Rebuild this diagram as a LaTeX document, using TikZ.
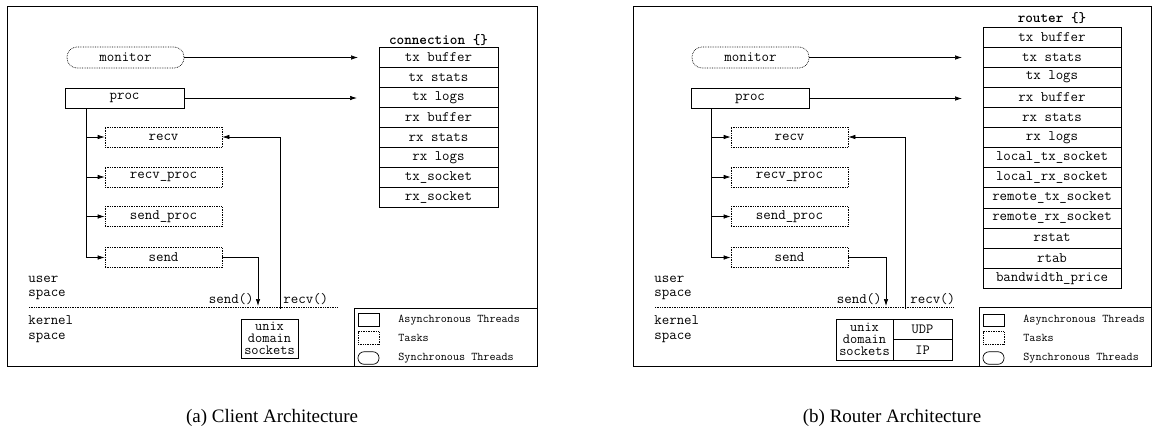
\documentclass[tikz,border=0pt]{standalone}
\usepackage{fontspec}
\setmainfont{Liberation Serif}
\usetikzlibrary{arrows.meta,calc}
\begin{document}
\begin{tikzpicture}[x=1pt,y=-1pt,
  font=\ttfamily\fontsize{14.5}{12}\selectfont,
  line width=0.7pt,
  >={Latex[length=7pt,width=4.5pt]},
  frame/.style={draw, line width=0.9pt},
  asyncbox/.style={draw, minimum height=20pt, minimum width=119pt, inner sep=0pt},
  taskbox/.style={draw, densely dotted, minimum height=20pt, minimum width=117pt, inner sep=0pt},
  syncbox/.style={draw, densely dotted, rounded corners=10pt, minimum height=21pt, minimum width=117pt, inner sep=0pt},
  rowbox/.style={draw, minimum height=20.1pt, inner sep=0pt},
  titletext/.style={font=\ttfamily\bfseries\fontsize{14.5}{12}\selectfont},
  lbl/.style={inner sep=0pt},
  spacelbl/.style={inner sep=0pt, anchor=west, align=left, font=\ttfamily\fontsize{14.5}{14.5}\selectfont},
  legtext/.style={font=\ttfamily\fontsize{11.8}{12}\selectfont, anchor=west, inner sep=0pt},
  legsym/.style={draw, minimum width=21pt, minimum height=12.5pt, inner sep=0pt},
  sockbox/.style={draw, inner sep=0pt, align=center, font=\ttfamily\fontsize{14}{12.3}\selectfont},
  caption/.style={font=\rmfamily\fontsize{19}{20}\selectfont, anchor=base}
]
\useasboundingbox (0,0) rectangle (1155,426);

% ================= LEFT PANEL =================
\node[frame, minimum width=530pt, minimum height=360pt, inner sep=0pt] (frameL) at (272,186) {};

\node[syncbox] (monitorL) at (125.5,57.5) {monitor};
\node[asyncbox] (procL) at (124.5,98) {proc};
\node[taskbox] (recvL) at (163.5,137) {recv};
\node[taskbox] (recvprocL) at (163.5,177) {recv\_proc};
\node[taskbox] (sendprocL) at (163.5,216.5) {send\_proc};
\node[taskbox] (sendL) at (163.5,257.5) {send};

\coordinate (brL) at (86,108);
\draw (brL) -- (brL |- sendL.west);
\draw[->] (brL |- recvL.west) -- (recvL.west);
\draw[->] (brL |- recvprocL.west) -- (recvprocL.west);
\draw[->] (brL |- sendprocL.west) -- (sendprocL.west);
\draw[->] (brL |- sendL.west) -- (sendL.west);

\node[titletext] (connT) at (438.5,40) {connection \{\}};
\foreach \i/\t in {1/tx buffer,2/tx stats,3/tx logs,4/rx buffer,5/rx stats,6/rx logs,7/tx\_socket,8/rx\_socket}{
  \node[rowbox, minimum width=119pt] (cL\i) at (438.5,{57.5+20*(\i-1)}) {\t};
}

\coordinate (mtipL) at (358,57.5);
\coordinate (ptipL) at (357,98);
\draw[->] (monitorL.east) -- (mtipL);
\draw[->] (procL.east) -- (ptipL);

\coordinate (sdL) at (258,306);
\coordinate (rvL) at (280,309);
\draw[->] (sendL.east) -| (sdL);
\draw[->] (rvL) |- (recvL.east);
\node[lbl, anchor=east] (sendtxtL) at (254,299) {send()};
\node[lbl, anchor=west] (recvtxtL) at (283,299) {recv()};

\coordinate (dotaL) at (29,307);
\coordinate (dotbL) at (338,307);
\draw[densely dotted] (dotaL) -- (dotbL);

\node[spacelbl] (userL) at (28,288) {user\\space};
\node[spacelbl] (kernelL) at (28,329) {kernel\\space};

\node[sockbox, minimum width=57pt, minimum height=39pt] (unixL) at (269.5,338.5) {unix\\domain\\sockets};

\node[draw, line width=0.9pt, minimum width=183pt, minimum height=58pt, inner sep=0pt] (legL) at (445.5,337) {};
\node[legsym] (la1L) at (368.5,320) {};
\node[legsym, densely dotted] (la2L) at (368.5,338) {};
\node[legsym, rounded corners=6pt] (la3L) at (368.5,358) {};
\node[legtext] (lt1L) at (398,320) {Asynchronous Threads};
\node[legtext] (lt2L) at (398,338) {Tasks};
\node[legtext] (lt3L) at (398,358) {Synchronous Threads};

\node[caption] (capL) at (272,422.5) {(a) Client Architecture};

% ================= RIGHT PANEL =================
\node[frame, minimum width=518pt, minimum height=360pt, inner sep=0pt] (frameR) at (892,186) {};

\node[syncbox] (monitorR) at (750.5,57.5) {monitor};
\node[asyncbox, minimum width=118pt] (procR) at (750,98.5) {proc};
\node[taskbox] (recvR) at (789.5,137) {recv};
\node[taskbox] (recvprocR) at (789.5,177) {recv\_proc};
\node[taskbox] (sendprocR) at (789.5,216.5) {send\_proc};
\node[taskbox] (sendR) at (789.5,257.5) {send};

\coordinate (brR) at (711,108.5);
\draw (brR) -- (brR |- sendR.west);
\draw[->] (brR |- recvR.west) -- (recvR.west);
\draw[->] (brR |- recvprocR.west) -- (recvprocR.west);
\draw[->] (brR |- sendprocR.west) -- (sendprocR.west);
\draw[->] (brR |- sendR.west) -- (sendR.west);

\node[titletext] (routT) at (1052,18) {router \{\}};
\foreach \i/\t in {1/tx buffer,2/tx stats,3/tx logs,4/rx buffer,5/rx stats,6/rx logs,7/local\_tx\_socket,8/local\_rx\_socket,9/remote\_tx\_socket,10/remote\_rx\_socket,11/rstat,12/rtab,13/bandwidth\_price}{
  \node[rowbox, minimum width=138pt] (cR\i) at (1052,{37+20.1*(\i-1)}) {\t};
}

\coordinate (mtipR) at (962,57.5);
\coordinate (ptipR) at (962,98.5);
\draw[->] (monitorR.east) -- (mtipR);
\draw[->] (procR.east) -- (ptipR);

\coordinate (sdR) at (886,306);
\coordinate (rvR) at (905,309);
\draw[->] (sendR.east) -| (sdR);
\draw[->] (rvR) |- (recvR.east);
\node[lbl, anchor=east] (sendtxtR) at (882,299) {send()};
\node[lbl, anchor=west] (recvtxtR) at (910,299) {recv()};

\coordinate (dotaR) at (655,307);
\coordinate (dotbR) at (953,307);
\draw[densely dotted] (dotaR) -- (dotbR);

\node[spacelbl] (userR) at (654,288) {user\\space};
\node[spacelbl] (kernelR) at (654,329) {kernel\\space};

\node[sockbox, minimum width=57pt, minimum height=41pt] (unixR) at (864.5,339.5) {unix\\domain\\sockets};
\node[sockbox, minimum width=59pt, minimum height=20.5pt] (udpR) at (922.5,329.25) {UDP};
\node[sockbox, minimum width=59pt, minimum height=20.5pt] (ipR) at (922.5,349.75) {IP};

\node[draw, line width=0.9pt, minimum width=172pt, minimum height=59pt, inner sep=0pt] (legR) at (1065,336.5) {};
\node[legsym] (la1R) at (993.5,320.5) {};
\node[legsym, densely dotted] (la2R) at (993.5,338) {};
\node[legsym, rounded corners=6pt] (la3R) at (993.5,358) {};
\node[legtext] (lt1R) at (1023,320) {Asynchronous Threads};
\node[legtext] (lt2R) at (1023,338) {Tasks};
\node[legtext] (lt3R) at (1023,358) {Synchronous Threads};

\node[caption] (capR) at (892,422.5) {(b) Router Architecture};
\end{tikzpicture}
\end{document}
